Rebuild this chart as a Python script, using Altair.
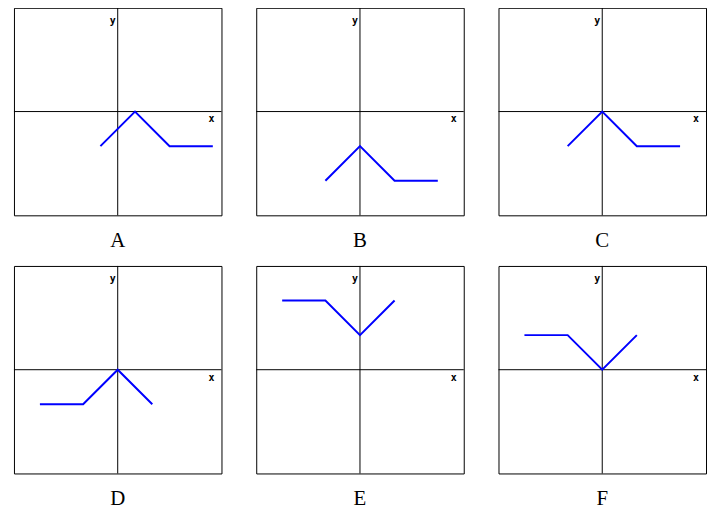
import altair as alt
import pandas as pd

panels = ["A", "B", "C", "D", "E", "F"]
xs = {
    "A": [-1, 1, 3, 5.5],
    "B": [-2, 0, 2, 4.5],
    "C": [-2, 0, 2, 4.5],
    "D": [-4.5, -2, 0, 2],
    "E": [-4.5, -2, 0, 2],
    "F": [-4.5, -2, 0, 2],
}
ys = {
    "A": [-2, 0, -2, -2],
    "B": [-4, -2, -4, -4],
    "C": [-2, 0, -2, -2],
    "D": [-2, -2, 0, -2],
    "E": [4, 4, 2, 4],
    "F": [2, 2, 0, 2],
}
domain = [-6, 6]

W = 209
H = 209


def panel(letter):
    df = pd.DataFrame({"x": xs[letter], "y": ys[letter], "order": list(range(len(xs[letter])))})
    one = pd.DataFrame({"v": [0]})
    xsc = alt.Scale(domain=domain, nice=False, zero=False)
    ysc = alt.Scale(domain=domain, nice=False, zero=False)
    line = alt.Chart(df).mark_line(color="#0000ff", strokeWidth=2).encode(
        x=alt.X("x:Q", scale=xsc, axis=None),
        y=alt.Y("y:Q", scale=ysc, axis=None),
        order=alt.Order("order:Q"),
    )
    vrule = alt.Chart(one).mark_rule(color="black", strokeWidth=1).encode(
        x=alt.X("v:Q", scale=xsc, axis=None)
    )
    hrule = alt.Chart(one).mark_rule(color="black", strokeWidth=1).encode(
        y=alt.Y("v:Q", scale=ysc, axis=None)
    )
    ylab = alt.Chart(one).mark_text(
        text="y", align="right", baseline="top", dx=-2, dy=8,
        font="DejaVu Sans Mono", fontWeight="bold", fontSize=10, color="black",
    ).encode(x=alt.X(datum=0), y=alt.Y(datum=domain[1]))
    xlab = alt.Chart(one).mark_text(
        text="x", align="right", baseline="top", dx=-7, dy=3,
        font="DejaVu Sans Mono", fontWeight="bold", fontSize=10, color="black",
    ).encode(x=alt.X(datum=domain[1]), y=alt.Y(datum=0))
    return alt.layer(vrule, hrule, line, ylab, xlab).properties(
        width=W, height=H,
        title=alt.TitleParams(letter, orient="bottom"),
    )


chart = alt.concat(
    *[panel(p) for p in panels], columns=3,
    spacing={"row": 14, "column": 33},
).properties(
    padding={"left": 5, "top": -3, "right": 0, "bottom": 0}
).configure_view(stroke="black", strokeWidth=1).configure_title(
    font="Liberation Serif", fontSize=21, fontWeight="normal", color="black",
    anchor="middle", offset=14,
)

chart.save("out.html", embed_options={"renderer": "svg", "actions": False})
